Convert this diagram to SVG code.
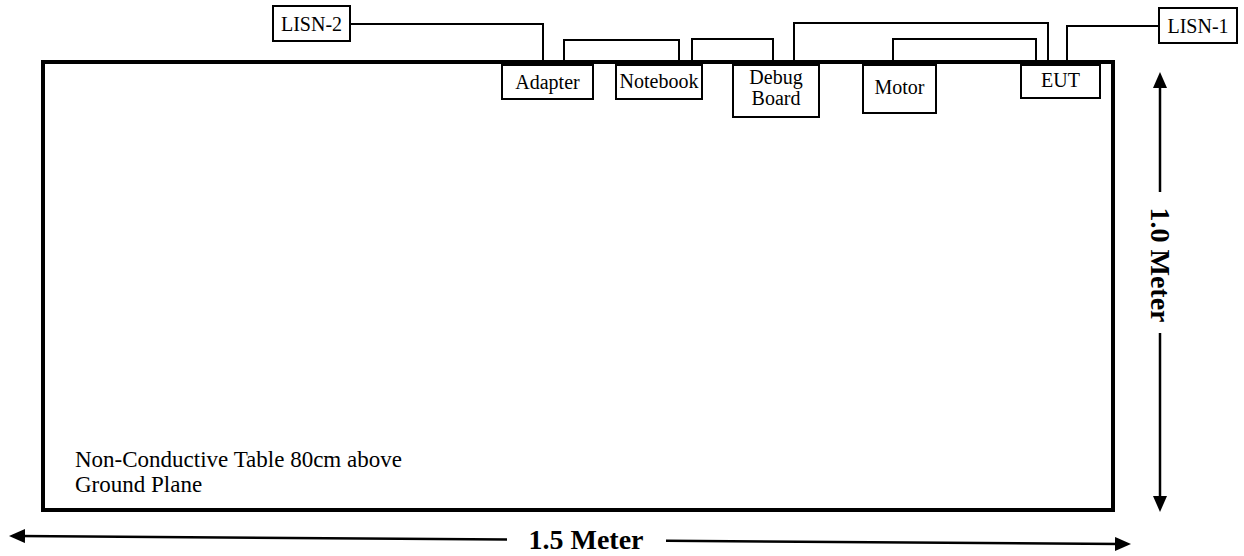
<svg xmlns="http://www.w3.org/2000/svg" width="1244" height="556" viewBox="0 0 1244 556">
  <style>
    .box { fill: #fff; stroke: #000; stroke-width: 2; }
    .lbl { font-family: "Liberation Serif", "Times New Roman", serif; font-size: 20px; fill: #000; text-anchor: middle; }
    .wire { fill: none; stroke: #000; stroke-width: 2; }
    .dim { fill: none; stroke: #000; stroke-width: 2.5; }
    .dimtxt { font-family: "Liberation Serif", "Times New Roman", serif; font-size: 28px; font-weight: bold; fill: #000; text-anchor: middle; }
    .note { font-family: "Liberation Serif", "Times New Roman", serif; font-size: 23px; fill: #000; }
  </style>
  <defs>
    <marker id="arrow" viewBox="0 0 16 14" refX="6" refY="7" markerWidth="16" markerHeight="14" markerUnits="userSpaceOnUse" orient="auto-start-reverse">
      <path d="M0,0 L16,7 L0,14 z" fill="#000"/>
    </marker>
  </defs>

  <!-- table outline -->
  <g id="table">
    <rect x="43" y="62" width="1070" height="448" fill="#fff" stroke="#000" stroke-width="4"/>
    <text class="note" x="75" y="467">Non-Conductive Table 80cm above</text>
    <text class="note" x="75" y="492">Ground Plane</text>
  </g>

  <!-- cabling between units -->
  <g id="connectors">
    <path class="wire" d="M350,24 H543 V62"/>
    <path class="wire" d="M564,62 V40 H679 V62"/>
    <path class="wire" d="M692,62 V39 H773 V62"/>
    <path class="wire" d="M794,62 V23 H1048 V62"/>
    <path class="wire" d="M893,62 V39 H1036 V62"/>
    <path class="wire" d="M1067,62 V26 H1159"/>
  </g>

  <g id="lisn2">
    <rect class="box" x="273" y="6" width="77" height="35"/>
    <text class="lbl" x="311.5" y="31">LISN-2</text>
  </g>
  <g id="lisn1">
    <rect class="box" x="1159" y="8" width="78" height="35"/>
    <text class="lbl" x="1198" y="33">LISN-1</text>
  </g>
  <g id="adapter">
    <rect class="box" x="502" y="65" width="91" height="34"/>
    <text class="lbl" x="547.5" y="89">Adapter</text>
  </g>
  <g id="notebook">
    <rect class="box" x="616" y="65" width="86" height="34"/>
    <text class="lbl" x="659" y="88">Notebook</text>
  </g>
  <g id="debug-board">
    <rect class="box" x="733" y="65" width="86" height="52"/>
    <text class="lbl" x="776" y="84">Debug</text>
    <text class="lbl" x="776" y="105">Board</text>
  </g>
  <g id="motor">
    <rect class="box" x="863" y="65" width="73" height="48"/>
    <text class="lbl" x="899.5" y="94">Motor</text>
  </g>
  <g id="eut">
    <rect class="box" x="1021" y="65" width="79" height="33"/>
    <text class="lbl" x="1060.5" y="87">EUT</text>
  </g>

  <!-- dimension arrows -->
  <g id="dim-width">
    <line class="dim" x1="19" y1="536" x2="507" y2="539.6" marker-start="url(#arrow)"/>
    <line class="dim" x1="666" y1="540.7" x2="1121" y2="544" marker-end="url(#arrow)"/>
    <text class="dimtxt" x="586" y="549">1.5 Meter</text>
  </g>
  <g id="dim-depth">
    <line class="dim" x1="1160" y1="82" x2="1160" y2="192" marker-start="url(#arrow)"/>
    <line class="dim" x1="1160" y1="333" x2="1160" y2="502" marker-end="url(#arrow)"/>
    <text class="dimtxt" transform="translate(1151,265) rotate(90)">1.0 Meter</text>
  </g>
</svg>
